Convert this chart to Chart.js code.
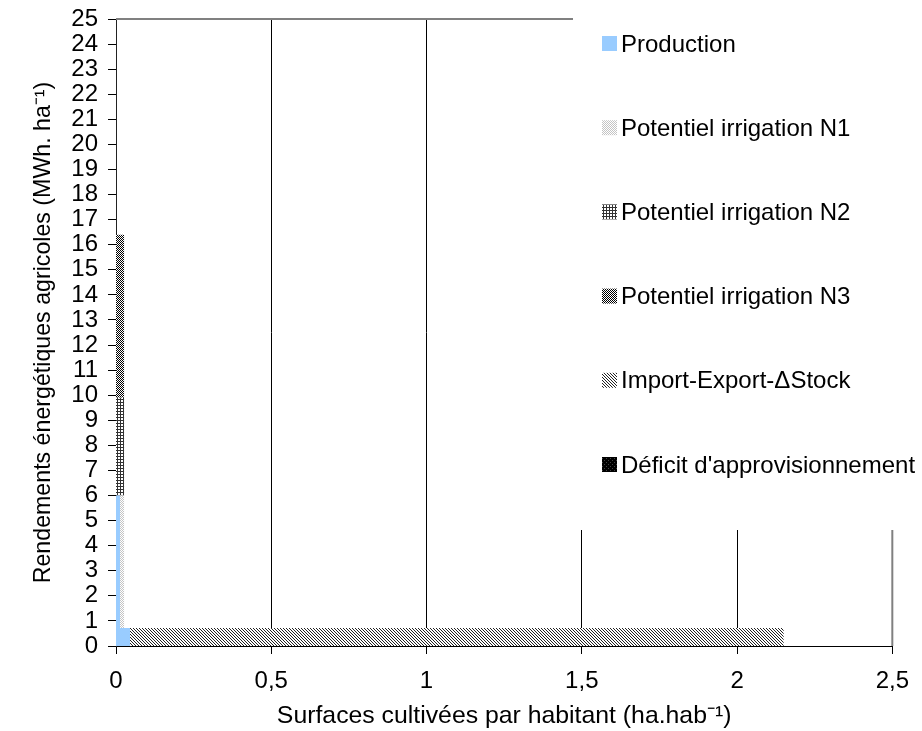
<!DOCTYPE html>
<html>
<head>
<meta charset="utf-8">
<script src="https://cdn.jsdelivr.net/npm/chart.js@4/dist/chart.umd.min.js"></script>
<style>
  body { margin: 0; background: #fff; }
  #wrap { width: 922px; height: 731px; }
</style>
</head>
<body>
<div id="wrap"><canvas id="surfaceChart"></canvas></div>
<script>
// series shown in the legend
const seriesLabels = [
  "Production",
  "Potentiel irrigation N1",
  "Potentiel irrigation N2",
  "Potentiel irrigation N3",
  "Import-Export-\u0394Stock",
  "D\u00e9ficit d'approvisionnement"
];

// blocks drawn on the chart (series index, surface from/to, yield from/to)
const blockSeries      = [0, 0, 1, 2, 3, 4];
const blockSurfaceFrom = [0, 0, 0.013, 0, 0, 0.045];
const blockSurfaceTo   = [0.013, 0.045, 0.026, 0.026, 0.026, 2.15];
const blockYieldFrom   = [0, 0, 0.72, 6, 9.9, 0];
const blockYieldTo     = [6, 0.72, 6, 9.9, 16.4, 0.72];

// axis ticks
const xTicks = [0, 0.5, 1, 1.5, 2, 2.5];
const yMax = 25;

const FONT = "'Liberation Sans', Arial, sans-serif";

function makePattern(size, bg, fg, cells) {
  const c = document.createElement("canvas");
  c.width = c.height = size;
  const g = c.getContext("2d");
  g.fillStyle = bg;
  g.fillRect(0, 0, size, size);
  g.fillStyle = fg;
  cells.forEach(([x, y]) => g.fillRect(x, y, 1, 1));
  return g.createPattern(c, "repeat");
}

const fills = [
  "#99CCFF",
  makePattern(2, "#fff", "#c4c4c4", [[0, 0], [1, 1]]),
  makePattern(3, "#fff", "#333", [[0, 0], [1, 0], [2, 0], [0, 1], [0, 2]]),
  makePattern(2, "#fff", "#000", [[0, 0], [1, 1]]),
  makePattern(3, "#fff", "#222", [[0, 0], [1, 1], [2, 2]]),
  makePattern(4, "#000", "#444", [[0, 0], [2, 2]])
];

const datasets = blockSeries.map((s, i) => ({
  label: seriesLabels[s],
  data: [
    { x: blockSurfaceFrom[i], y: blockYieldFrom[i] },
    { x: blockSurfaceFrom[i], y: blockYieldTo[i] },
    { x: blockSurfaceTo[i], y: blockYieldTo[i] },
    { x: blockSurfaceTo[i], y: blockYieldFrom[i] }
  ],
  backgroundColor: fills[s],
  borderWidth: 0,
  pointRadius: 0,
  tension: 0,
  fill: "shape"
}));

// legend drawn over the upper right of the plot, like the original
const legendOverlay = {
  id: "legendOverlay",
  afterDraw(chart) {
    const { ctx, chartArea: a } = chart;
    ctx.save();
    ctx.strokeStyle = "#808080";
    ctx.lineWidth = 2;
    ctx.beginPath();
    ctx.moveTo(a.left, a.top);
    ctx.lineTo(a.right, a.top);
    ctx.lineTo(a.right, a.bottom);
    ctx.stroke();

    ctx.fillStyle = "#fff";
    ctx.fillRect(573, 0, chart.width - 573, 530);

    ctx.font = "24px " + FONT;
    ctx.textBaseline = "middle";
    seriesLabels.forEach((label, i) => {
      const y = 44 + i * 84.2;
      ctx.fillStyle = fills[i];
      ctx.fillRect(602, y - 8, 15, 15);
      ctx.fillStyle = "#000";
      ctx.fillText(label, 621, y + 1);
    });
    ctx.restore();
  }
};

new Chart(document.getElementById("surfaceChart"), {
  type: "line",
  data: { datasets },
  plugins: [legendOverlay],
  options: {
    responsive: true,
    maintainAspectRatio: false,
    animation: false,
    layout: { padding: { top: 19, right: 27, left: 0, bottom: 0 } },
    plugins: {
      legend: { display: false },
      tooltip: { enabled: false }
    },
    scales: {
      x: {
        type: "linear",
        min: 0,
        max: 2.5,
        afterFit: (s) => { s.height = 85; },
        afterBuildTicks: (s) => { s.ticks = xTicks.map((v) => ({ value: v })); },
        ticks: {
          autoSkip: false,
          maxRotation: 0,
          padding: 13,
          color: "#000",
          font: { family: FONT, size: 24 },
          callback: (v) => String(v).replace(".", ",")
        },
        grid: { color: "#000", lineWidth: 1, tickLength: 8, drawOnChartArea: true },
        border: { color: "#000", width: 1 },
        title: {
          display: true,
          text: "Surfaces cultiv\u00e9es par habitant (ha.hab\u207b\u00b9)",
          color: "#000",
          font: { family: FONT, size: 24.8 },
          padding: { top: 0, bottom: 0 }
        }
      },
      y: {
        min: 0,
        max: yMax,
        afterFit: (s) => { s.width = 116; s.paddingTop = 0; },
        ticks: {
          stepSize: 1,
          autoSkip: false,
          padding: 10,
          color: "#000",
          font: { family: FONT, size: 24 }
        },
        grid: { color: "#000", tickLength: 8, drawOnChartArea: false },
        border: { color: "#222", width: 1 },
        title: {
          display: true,
          text: "Rendements \u00e9nerg\u00e9tiques agricoles (MWh. ha\u207b\u00b9)",
          color: "#000",
          font: { family: FONT, size: 23.2 },
          padding: { top: 30, bottom: 0 }
        }
      }
    }
  }
});
</script>
</body>
</html>
